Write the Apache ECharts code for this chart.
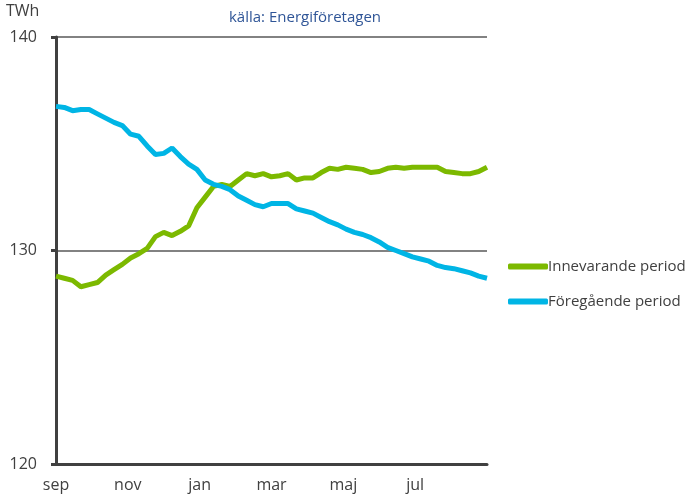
<!DOCTYPE html>
<html>
<head>
<meta charset="utf-8">
<script src="https://cdn.jsdelivr.net/npm/echarts@6/dist/echarts.min.js"></script>
<style>
  html, body { margin: 0; padding: 0; background: #fff; }
  #chart { width: 693px; height: 499px; }
</style>
</head>
<body>
<div id="chart"></div>
<script>
// veckovärden, sep -> aug
const monthLabels = ['sep', 'nov', 'jan', 'mar', 'maj', 'jul']
const yTicks = [120, 130, 140]

const innevarande = [
  128.8, 128.7, 128.6, 128.3, 128.4, 128.5, 128.85, 129.1, 129.35, 129.65,
  129.85, 130.1, 130.65, 130.85, 130.7, 130.9, 131.15, 132.0, 132.5, 133.0,
  133.1, 133.0, 133.3, 133.6, 133.5, 133.6, 133.45, 133.5, 133.6, 133.3,
  133.4, 133.4, 133.65, 133.85, 133.8, 133.9, 133.85, 133.8, 133.65, 133.7,
  133.85, 133.9, 133.85, 133.9, 133.9, 133.9, 133.9, 133.7, 133.65, 133.6,
  133.6, 133.7, 133.9
]
const foregaende = [
  136.75, 136.7, 136.55, 136.6, 136.6, 136.4, 136.2, 136.0, 135.85, 135.45,
  135.35, 134.9, 134.5, 134.55, 134.8, 134.4, 134.05, 133.8, 133.3, 133.1,
  133.0, 132.85, 132.55, 132.35, 132.15, 132.05, 132.2, 132.2, 132.2, 131.95,
  131.85, 131.75, 131.55, 131.35, 131.2, 131.0, 130.85, 130.75, 130.6, 130.4,
  130.15, 130.0, 129.85, 129.7, 129.6, 129.5, 129.3, 129.2, 129.15, 129.05,
  128.95, 128.8, 128.7
]

const weeks = innevarande.length - 1
// x i månader sedan september
const toPoints = arr => arr.map((v, i) => [i * 12 / weeks, v])

const textColor = '#404040'
const font = 'Open Sans'

const chart = echarts.init(document.getElementById('chart'))
chart.setOption({
  animation: false,
  textStyle: { fontFamily: font },
  title: {
    text: 'källa: Energiföretagen',
    left: 300,
    textAlign: 'center',
    top: 5,
    textStyle: { color: '#2f5597', fontSize: 15, fontWeight: 'normal', fontFamily: font }
  },
  graphic: [{
    type: 'text',
    left: 6,
    top: 3,
    style: { text: 'TWh', fill: textColor, fontSize: 16, fontFamily: font }
  }],
  legend: {
    orient: 'vertical',
    left: 503,
    top: 254,
    itemWidth: 40,
    itemHeight: 6,
    itemGap: 20,
    icon: 'roundRect',
    textStyle: { color: textColor, fontSize: 15, fontFamily: font, padding: [0, 0, 0, -5] },
    data: ['Innevarande period', 'Föregående period']
  },
  grid: { left: 56, right: 206, top: 37, bottom: 35 },
  xAxis: {
    type: 'value',
    min: 0,
    max: 12,
    interval: 2,
    axisLine: { show: true, lineStyle: { color: '#404040', width: 3 } },
    axisTick: { show: false },
    splitLine: { show: false },
    axisLabel: {
      color: textColor,
      fontSize: 16,
      margin: 13,
      showMaxLabel: false,
      formatter: v => monthLabels[v / 2] || ''
    }
  },
  yAxis: {
    type: 'value',
    min: yTicks[0],
    max: yTicks[yTicks.length - 1],
    interval: 10,
    axisLine: { show: true, lineStyle: { color: '#404040', width: 3 } },
    axisTick: { show: true, length: 5, lineStyle: { color: '#404040', width: 3 } },
    splitLine: { show: true, lineStyle: { color: '#595959', width: 1.5 } },
    axisLabel: { color: textColor, fontSize: 16, margin: 19 }
  },
  series: [
    {
      name: 'Innevarande period',
      type: 'line',
      data: toPoints(innevarande),
      showSymbol: false,
      color: '#7cb900',
      lineStyle: { width: 5, color: '#7cb900' },
      z: 3
    },
    {
      name: 'Föregående period',
      type: 'line',
      data: toPoints(foregaende),
      showSymbol: false,
      color: '#00b5e5',
      lineStyle: { width: 5, color: '#00b5e5' },
      z: 4
    }
  ]
})
</script>
</body>
</html>
